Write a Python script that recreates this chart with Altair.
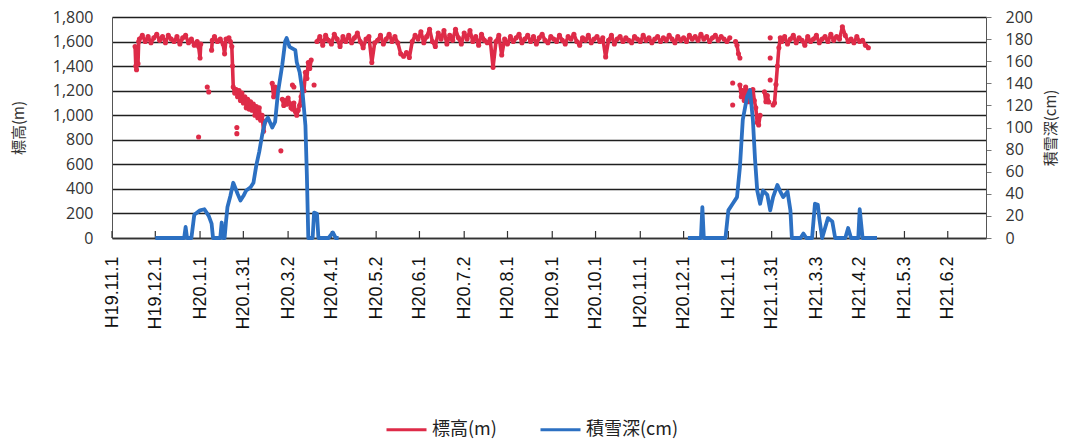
import altair as alt
import pandas as pd

# ---------------- axis ticks / labels ----------------
tick_days = [0, 30, 61, 91, 122, 152, 183, 213, 244, 274, 305, 335, 366, 396, 427, 457, 488, 518, 549, 579]
tick_labels = ["H19.11.1", "H19.12.1", "H20.1.1", "H20.1.31", "H20.3.2", "H20.4.1", "H20.5.2",
               "H20.6.1", "H20.7.2", "H20.8.1", "H20.9.1", "H20.10.1", "H20.11.1", "H20.12.1",
               "H21.1.1", "H21.1.31", "H21.3.3", "H21.4.2", "H21.5.3", "H21.6.2"]
elev_ticks = [0, 200, 400, 600, 800, 1000, 1200, 1400, 1600, 1800]
snow_ticks = [0, 20, 40, 60, 80, 100, 120, 140, 160, 180, 200]

LBL_R = "標高(m)"
LBL_B = "積雪深(cm)"

# ---------------- elevation (m), connected pieces (day since H19.11.1) ----------------
red_s1_day = [16, 16.5, 17, 17.5, 18, 18.5, 19, 21, 23, 25, 27, 29, 31, 33, 35, 37, 39, 41, 43, 45,
              47, 49, 51, 53, 55, 57, 59, 60, 61, 61.5]
red_s1_val = [1560, 1400, 1370, 1480, 1420, 1600, 1620, 1650, 1600, 1640, 1590, 1630, 1660, 1610, 1640, 1590,
              1650, 1620, 1600, 1640, 1580, 1630, 1650, 1590, 1620, 1570, 1600, 1560, 1466, 1580]

red_s2_day = [69, 69.5, 71, 73, 75, 77, 78, 79, 81, 82, 83, 83.5, 84, 85, 86, 87, 88, 89, 90, 91, 92,
              93, 94, 95, 96, 97, 98, 99, 100, 101, 102, 103, 104, 105, 106]
red_s2_val = [1530, 1610, 1640, 1600, 1620, 1580, 1500, 1620, 1630, 1600, 1560, 1400, 1230, 1180, 1210,
              1150, 1200, 1120, 1180, 1100, 1150, 1060, 1130, 1050, 1110, 1040, 1090, 1000, 1070, 980,
              1060, 960, 1000, 870, 950]

red_s3_day = [111, 112, 113, 114]
red_s3_val = [1260, 1150, 1230, 1170]

red_s4_day = [118, 119, 120, 121, 122, 123, 124, 125, 126, 127, 128, 129, 130, 131, 132, 133, 134,
              135, 136, 137, 138]
red_s4_val = [1130, 1080, 1120, 1090, 1140, 1100, 1060, 1050, 1100, 1030, 1000, 1040, 1080, 1150, 1250,
              1200, 1350, 1300, 1430, 1380, 1450]

# main summer band, every second day from day 142 to day 428
red_main_start = 142
red_main_val = [
    1600, 1640, 1570, 1650, 1610, 1580, 1660, 1620, 1560, 1640, 1600, 1650,
    1590, 1630, 1670, 1600, 1550, 1620, 1640, 1430, 1590, 1610, 1650, 1580,
    1620, 1660, 1600, 1640, 1590, 1500, 1480, 1510, 1470, 1600, 1650, 1620,
    1680, 1590, 1640, 1700, 1600, 1560, 1670, 1620, 1690, 1580, 1650, 1610,
    1700, 1630, 1580, 1670, 1620, 1690, 1600, 1640, 1570, 1660, 1610, 1590,
    1620, 1390, 1600, 1650, 1490, 1620, 1580, 1640, 1600, 1630, 1660, 1590,
    1620, 1650, 1600, 1640, 1580, 1630, 1660, 1610, 1590, 1640, 1620, 1600,
    1650, 1610, 1580, 1640, 1620, 1660, 1600, 1570, 1630, 1610, 1650, 1590,
    1620, 1640, 1600, 1630, 1475, 1610, 1650, 1580, 1620, 1640, 1600, 1630,
    1610, 1590, 1640, 1620, 1600, 1650, 1610, 1630, 1590, 1620, 1640, 1600,
    1630, 1610, 1650, 1620, 1590, 1640, 1610, 1630, 1600, 1650, 1620, 1640,
    1610, 1660, 1620, 1640, 1600, 1630, 1650, 1610, 1640, 1620, 1600, 1630,
]

red_s5_day = [432, 433, 434, 435]
red_s5_val = [1600, 1570, 1500, 1466]

red_s6_day = [435, 436, 437, 438, 439, 440, 441, 442, 443, 444, 445, 446, 447, 448, 449]
red_s6_val = [1246, 1150, 1200, 1120, 1230, 1180, 1110, 1200, 1140, 1210, 1120, 1060, 940, 920, 1000]

red_s7_day = [452, 453, 454, 455]
red_s7_val = [1190, 1110, 1160, 1108]

red_s8_day = [458, 459, 460, 461, 462, 463]
red_s8_val = [1083, 1100, 1250, 1400, 1550, 1630]

# spring band, every second day from day 464 to day 524
red_end_start = 464
red_end_val = [
    1600, 1640, 1580, 1620, 1650, 1590, 1630, 1610, 1570, 1640, 1600, 1620,
    1650, 1590, 1620, 1640, 1600, 1660, 1610, 1640, 1620, 1720, 1650, 1600,
    1620, 1590, 1640, 1600, 1610, 1570, 1550,
]

# isolated elevation readings
red_pts_day = [60, 66, 67, 86.5, 86.5, 117, 125, 126, 140, 430, 430, 456, 456, 456]
red_pts_val = [823, 1230, 1190, 900, 850, 710, 1246, 1230, 1246, 1262, 1083, 1630, 1466, 1287]

# ---------------- snow depth (cm) ----------------
blue_s1_day = [30, 50, 51, 52, 55, 57, 61, 64, 67, 69, 70, 75, 76, 77, 78, 79, 80, 82, 84, 87,
               89, 91, 93, 96, 98, 100, 102, 104, 106, 108, 111, 113, 115, 118, 120, 121, 123, 127, 128, 130,
               132, 134, 135, 136, 139, 140, 142, 143, 150, 153, 155, 157]
blue_s1_val = [0, 0, 10, 0, 0, 21, 25, 26, 20, 13, 0, 0, 14, 0, 0, 15, 28, 38, 50, 40,
               34, 38, 43, 46, 50, 66, 78, 93, 105, 109, 100, 105, 132, 157, 178, 181, 173, 170, 159, 150,
               132, 102, 57, 0, 0, 23, 22, 0, 0, 5, 0, 0]

blue_s2_day = [399, 408, 409, 410, 419, 425, 427, 430, 433, 435, 437, 440, 442, 444, 445.5, 447, 449, 451, 454, 456,
               458, 461, 463, 465, 468, 470, 471, 477, 479, 481, 485, 487, 489, 490, 492, 496, 499, 501, 508, 510,
               512, 517, 518, 520, 530]
blue_s2_val = [0, 0, 28, 0, 0, 0, 25, 31, 37, 64, 107, 128, 134, 107, 71, 43, 31, 43, 39, 25,
               37, 48, 42, 37, 42, 25, 0, 0, 4, 0, 0, 31, 30, 18, 0, 18, 15, 0, 0, 9,
               0, 0, 26, 0, 0]

# ---------------- build tables ----------------
red_pieces = [
    (red_s1_day, red_s1_val),
    (red_s2_day, red_s2_val),
    (red_s3_day, red_s3_val),
    (red_s4_day, red_s4_val),
    ([red_main_start + 2 * i for i in range(len(red_main_val))], red_main_val),
    (red_s5_day, red_s5_val),
    (red_s6_day, red_s6_val),
    (red_s7_day, red_s7_val),
    (red_s8_day + [red_end_start + 2 * i for i in range(len(red_end_val))], red_s8_val + red_end_val),
]
rows = []
for k, (ds, vs) in enumerate(red_pieces):
    for d, v in zip(ds, vs):
        rows.append({"day": d, "val": v, "seg": f"r{k}", "series": LBL_R})
red_line_df = pd.DataFrame(rows)
pts_rows = [{"day": d, "val": v, "seg": "p", "series": LBL_R} for d, v in zip(red_pts_day, red_pts_val)]
red_pts_df = pd.concat([red_line_df, pd.DataFrame(pts_rows)], ignore_index=True)

brows = []
for k, (ds, vs) in enumerate([(blue_s1_day, blue_s1_val), (blue_s2_day, blue_s2_val)]):
    for d, v in zip(ds, vs):
        brows.append({"day": d, "val": v, "seg": f"b{k}", "series": LBL_B})
blue_df = pd.DataFrame(brows)
tick_df = pd.DataFrame({"day": tick_days})

# ---------------- styles ----------------
RED = "#de2b48"
BLUE = "#2c70c2"
GRID = "#1f1f1f"

arr_days = "[" + ",".join(str(d) for d in tick_days) + "]"
arr_lbls = "[" + ",".join(f"'{s}'" for s in tick_labels) + "]"
label_expr = f"{arr_lbls}[indexof({arr_days}, datum.value)]"

x_enc = alt.X(
    "day:Q",
    scale=alt.Scale(domain=[0, 605.5], nice=False, zero=False),
    axis=alt.Axis(values=tick_days, labelExpr=label_expr, labelAngle=270, ticks=False,
                  grid=False, domain=True, domainColor="#333", domainWidth=1.3,
                  labelFont="Liberation Sans", labelFontSize=18, labelColor="#111",
                  labelPadding=18, title=None, labelOverlap=False),
)

color_enc = alt.Color(
    "series:N",
    scale=alt.Scale(domain=[LBL_R, LBL_B], range=[RED, BLUE]),
    legend=alt.Legend(orient="none", legendX=273, legendY=391, direction="horizontal",
                      title=None, symbolType="stroke", symbolSize=1600, symbolStrokeWidth=3,
                      labelFont="Noto Sans CJK JP", labelFontSize=18, labelColor="#222",
                      columnPadding=37, labelOffset=4, padding=0),
)

left_axis = alt.Axis(values=elev_ticks, format=",d", grid=True, gridColor=GRID, gridWidth=1.3,
                     domain=True, domainColor="#555", ticks=False, labelPadding=19,
                     labelFont="Open Sans", labelFontSize=16, labelColor="#333",
                     title=LBL_R, titleFont="Noto Sans CJK JP", titleFontSize=15,
                     titleFontWeight="normal", titleColor="#333", titlePadding=26)
right_axis = alt.Axis(orient="right", values=snow_ticks, grid=False, ticks=True, tickSize=5,
                      tickColor="#777", domain=True, domainColor="#555", labelPadding=14,
                      labelFont="Open Sans", labelFontSize=16, labelColor="#333",
                      title=LBL_B, titleAngle=270, titleFont="Noto Sans CJK JP", titleFontSize=15,
                      titleFontWeight="normal", titleColor="#333", titlePadding=26)

y_red = alt.Y("val:Q", scale=alt.Scale(domain=[0, 1800], nice=False), axis=left_axis)
y_blue = alt.Y("val:Q", scale=alt.Scale(domain=[0, 200], nice=False), axis=right_axis)

ticks_layer = alt.Chart(tick_df).mark_rule(color="#333", strokeWidth=1.2).encode(
    x=x_enc, y=alt.value(221), y2=alt.value(214))

red_line = alt.Chart(red_line_df).mark_line(strokeWidth=3.6, strokeJoin="round").encode(
    x=x_enc, y=y_red, color=color_enc, detail="seg:N")
red_pts = alt.Chart(red_pts_df).mark_circle(size=26, opacity=1, color=RED).encode(
    x=x_enc, y=y_red)

blue_line = alt.Chart(blue_df).mark_line(strokeWidth=3.8, strokeJoin="round").encode(
    x=x_enc, y=y_blue, color=color_enc, detail="seg:N")

red_layer = alt.layer(ticks_layer, red_line, red_pts)

chart = alt.layer(red_layer, blue_line).resolve_scale(y="independent").properties(
    width=874, height=221,
    padding={"left": 104, "top": 9, "right": 78, "bottom": 202},
    autosize=alt.AutoSizeParams(type="none"),
).configure_view(fill="#d6e4f1", stroke=None).configure(background="white")

chart.save("out.html", embed_options={"renderer": "svg", "actions": False})
